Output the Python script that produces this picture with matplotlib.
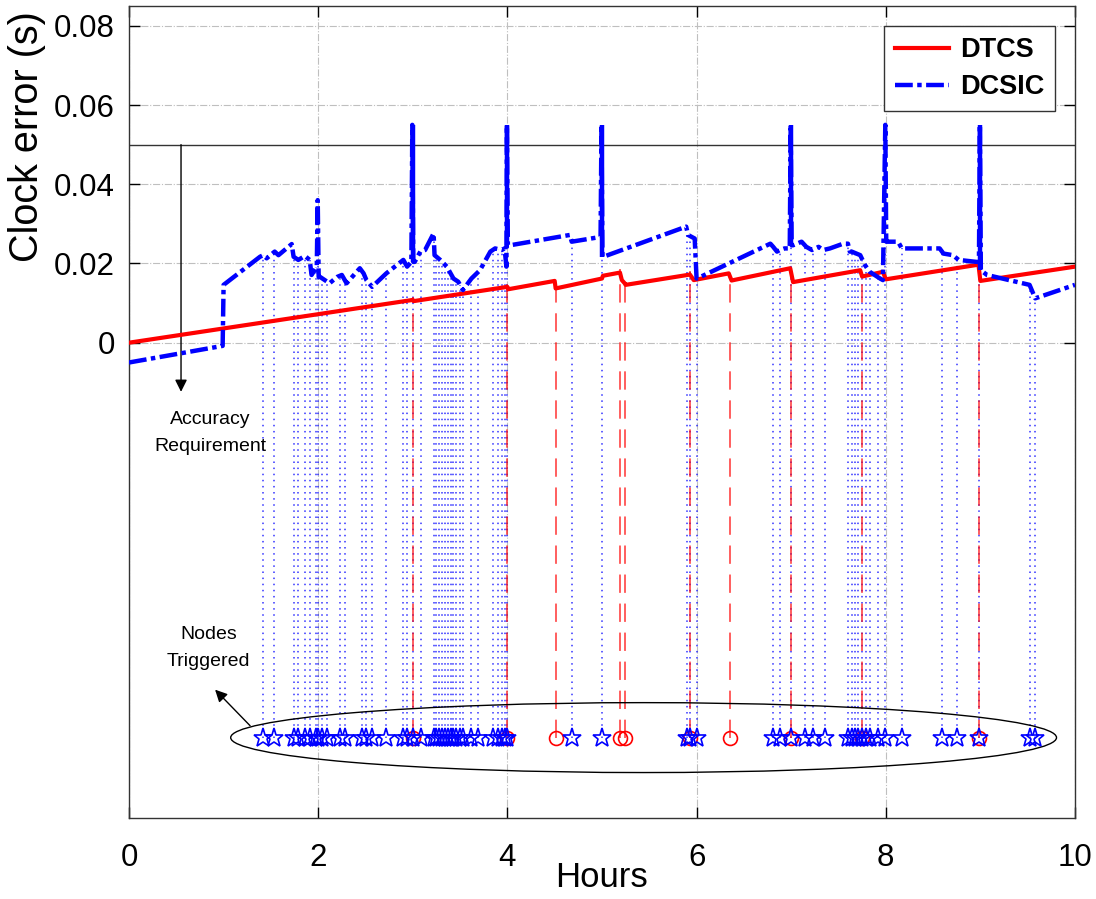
import numpy as np
import matplotlib
matplotlib.use("Agg")
import matplotlib.pyplot as plt
from matplotlib.patches import Ellipse

plt.rcParams['font.family'] = ['Liberation Sans', 'DejaVu Sans']

# ---------------- data ----------------
dtcs_x = [0.0, 3.0, 3.01, 4.0, 4.01, 4.5, 4.51, 5.0, 5.01, 5.19, 5.21, 5.24,
          5.25, 5.93, 5.97, 6.34, 6.37, 6.99, 7.02, 7.73, 7.75, 7.97, 8.0,
          8.98, 9.0, 10.0]
dtcs_y = [0.0, 0.0108, 0.0105, 0.0141, 0.0135, 0.0156, 0.0137, 0.0162, 0.0169,
          0.0177, 0.0158, 0.0150, 0.0146, 0.0172, 0.0158, 0.0175, 0.0157,
          0.0188, 0.0153, 0.0183, 0.0167, 0.0179, 0.0160, 0.0197, 0.0156,
          0.0192]

dcsic_x = [0.0, 0.99, 1.0, 1.385, 1.42, 1.455, 1.54, 1.58, 1.72, 1.74, 1.79,
           1.86, 1.91, 1.93, 1.985, 1.995, 2.005, 2.02, 2.07, 2.12, 2.20, 2.25,
           2.30, 2.44, 2.48, 2.51, 2.57, 2.72, 2.90, 2.94, 2.985, 2.995, 3.005,
           3.02, 3.08, 3.13, 3.22, 3.23, 3.29, 3.36, 3.43, 3.48, 3.53, 3.62,
           3.71, 3.82, 3.87, 3.94, 3.97, 3.99, 3.995, 4.005, 4.03, 4.66, 4.68,
           4.985, 4.995, 5.005, 5.015, 5.89, 5.91, 5.98, 6.0, 6.04, 6.78, 6.81,
           6.85, 6.88, 6.93, 6.985, 6.995, 7.005, 7.02, 7.11, 7.16, 7.22, 7.29,
           7.34, 7.41, 7.55, 7.60, 7.62, 7.64, 7.73, 7.78, 7.83, 7.94, 7.97,
           7.995, 8.005, 8.03, 8.13, 8.17, 8.57, 8.61, 8.71, 8.77, 8.96, 8.985,
           8.995, 9.005, 9.07, 9.52, 9.58, 10.0]
dcsic_y = [-0.0050, -0.0008, 0.0146, 0.0217, 0.0221, 0.0213, 0.0230, 0.0221,
           0.0249, 0.0217, 0.0209, 0.0219, 0.0209, 0.0171, 0.0192, 0.0360,
           0.0166, 0.0166, 0.0158, 0.0150, 0.0166, 0.0171, 0.0150, 0.0188,
           0.0175, 0.0158, 0.0141, 0.0175, 0.0209, 0.0192, 0.0204, 0.0550,
           0.0204, 0.0204, 0.0230, 0.0234, 0.0276, 0.0221, 0.0209, 0.0192,
           0.0162, 0.0154, 0.0133, 0.0162, 0.0183, 0.0230, 0.0238, 0.0234,
           0.0238, 0.0192, 0.0550, 0.0246, 0.0246, 0.0272, 0.0255, 0.0267,
           0.0550, 0.0217, 0.0217, 0.0293, 0.0272, 0.0263, 0.0162, 0.0166,
           0.0250, 0.0242, 0.0230, 0.0234, 0.0238, 0.0238, 0.0550, 0.0246,
           0.0246, 0.0255, 0.0242, 0.0234, 0.0242, 0.0234, 0.0238, 0.0250,
           0.0250, 0.0230, 0.0230, 0.0221, 0.0196, 0.0179, 0.0162, 0.0158,
           0.0550, 0.0255, 0.0255, 0.0255, 0.0238, 0.0238, 0.0225, 0.0221,
           0.0209, 0.0204, 0.0204, 0.0550, 0.0183, 0.0171, 0.0146, 0.0112,
           0.0146]

spike_x = [3.0, 4.0, 5.0, 7.0, 9.0]
spike_top = 0.055

dcsic_trig = [1.42, 1.53, 1.74, 1.79, 1.86, 1.91, 1.98, 2.0, 2.04, 2.09, 2.23,
              2.28, 2.46, 2.51, 2.57, 2.72, 2.90, 2.94, 3.0, 3.09, 3.22, 3.25,
              3.28, 3.31, 3.34, 3.37, 3.40, 3.43, 3.46, 3.50, 3.53, 3.62, 3.69,
              3.85, 3.90, 3.94, 3.97, 4.0, 4.68, 5.0, 5.90, 5.93, 6.0, 6.81,
              6.88, 7.0, 7.15, 7.23, 7.36, 7.60, 7.64, 7.67, 7.71, 7.75, 7.79,
              7.83, 7.92, 7.99, 8.17, 8.59, 8.75, 8.99, 9.52, 9.58]
dtcs_trig = [3.0, 4.0, 4.51, 5.19, 5.24, 5.93, 6.35, 7.0, 7.75, 8.99]

marker_level = -0.0997
accuracy_req = 0.05

# ---------------- figure ----------------
fig = plt.figure(figsize=(10.96, 8.99), dpi=100)
ax = fig.add_axes([0.1177, 0.0901, 0.8631, 0.9032])

# stems
blue_top = np.interp(dcsic_trig, dcsic_x, dcsic_y)
ax.vlines(dcsic_trig, marker_level, blue_top, colors='blue',
          linestyles=(0, (1, 3)), linewidth=1.1, alpha=0.8, zorder=2)
red_top = np.interp(dtcs_trig, dtcs_x, dtcs_y)
ax.vlines(dtcs_trig, marker_level, red_top + 0.0008, colors='red',
          linestyles=(0, (12, 7)), linewidth=1.1, alpha=0.8, zorder=2)

# curves
ax.plot(dtcs_x, dtcs_y, color='red', linewidth=3.0, label='DTCS', zorder=4)
ax.plot(dcsic_x, dcsic_y, color='blue', linewidth=3.2,
        dashes=(4.0, 1.0, 1.0, 1.0), label='DCSIC', zorder=5)
spike_base = np.interp(np.array(spike_x) + 0.006, dcsic_x, dcsic_y)
ax.vlines(spike_x, spike_base, spike_top, colors='blue', linewidth=3.2,
          zorder=5)

# markers
ax.plot(dtcs_trig, [marker_level] * len(dtcs_trig), linestyle='none',
        marker='o', markersize=10, markerfacecolor='none',
        markeredgecolor='red', markeredgewidth=1.2, zorder=6)
ax.plot(dcsic_trig, [marker_level] * len(dcsic_trig), linestyle='none',
        marker='*', markersize=14, markerfacecolor='none',
        markeredgecolor='blue', markeredgewidth=1.2, zorder=7)

# accuracy requirement line
ax.axhline(accuracy_req, color='#333333', linewidth=1.0, zorder=3)

ax.annotate('', xy=(0.55, -0.0124), xytext=(0.55, accuracy_req),
            arrowprops=dict(arrowstyle='-|>', color='black', lw=1.0,
                            mutation_scale=18, shrinkA=0, shrinkB=0))
ax.text(0.86, -0.0228, 'Accuracy\nRequirement', ha='center', va='center',
        fontsize=14, linespacing=1.75)

ax.add_patch(Ellipse((5.44, -0.0997), 8.73, 0.01765, fill=False,
                     edgecolor='black', linewidth=1.0, zorder=3))
ax.annotate('', xy=(0.91, -0.0876), xytext=(1.28, -0.0967),
            arrowprops=dict(arrowstyle='-|>', color='black', lw=1.0,
                            mutation_scale=18, shrinkA=0, shrinkB=0))
ax.text(0.84, -0.0770, 'Nodes\nTriggered', ha='center', va='center',
        fontsize=14, linespacing=1.75)

# axes styling
ax.set_xlim(0, 10)
ax.set_ylim(-0.12, 0.085)
ax.set_xticks([0, 2, 4, 6, 8, 10])
ax.set_yticks([0, 0.02, 0.04, 0.06, 0.08])
ax.set_yticklabels(['0', '0.02', '0.04', '0.06', '0.08'])
ax.grid(True, color='#bfbfbf', linestyle='-.', linewidth=0.8)
ax.set_axisbelow(True)
ax.tick_params(direction='in', top=True, right=True, labelsize=22.5,
               length=8, width=1, pad=10)
ax.tick_params(axis='x', pad=18)
for s in ax.spines.values():
    s.set_linewidth(1.0)
    s.set_color('#333333')
ax.set_xlabel('Hours', fontsize=25, labelpad=-9)
ax.set_ylabel('Clock error (s)', fontsize=28.5)
ax.yaxis.set_label_coords(-0.088, 0.8387)

leg = ax.legend(loc='upper right', bbox_to_anchor=(0.979, 0.975),
                prop={'size': 19.5, 'weight': 'bold'}, fancybox=False,
                framealpha=1, edgecolor='#333333', handlelength=2.0,
                borderpad=0.4, labelspacing=0.4, handletextpad=0.4,
                borderaxespad=0)
leg.get_frame().set_linewidth(1.0)

fig.savefig('out.png', dpi=100)
